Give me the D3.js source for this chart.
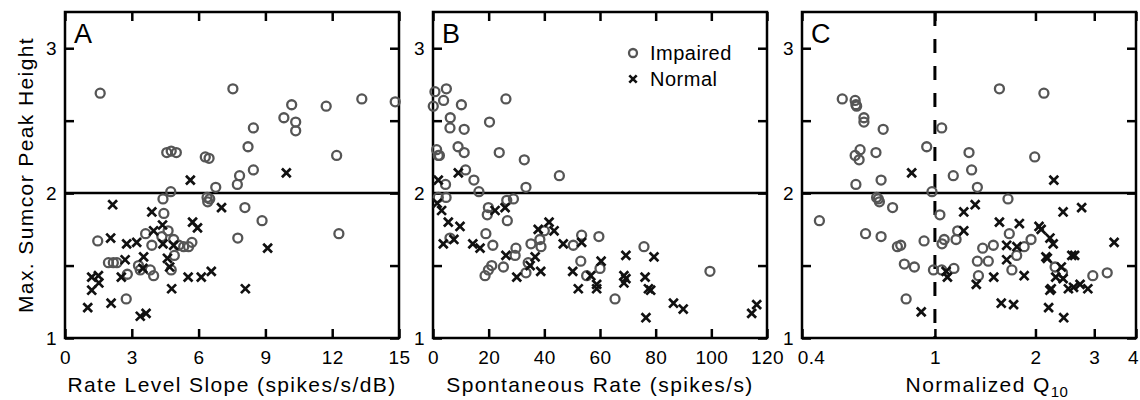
<!DOCTYPE html>
<html>
<head>
<meta charset="utf-8">
<script src="https://cdn.jsdelivr.net/npm/d3@7"></script>
<style>
body { margin: 0; background: #fff; }
svg { font-family: "Liberation Sans", Arial, sans-serif; }
</style>
</head>
<body>
<svg width="1140" height="400"></svg>
<script>
const width = 1140, height = 400;
const marginTop = 12;
const plotBottom = 338;
const panelWidth = 334;
const svg = d3.select("svg");

// y axis shared by all three panels
const peakTicks = [1, 1.5, 2, 2.5, 3];
const peakLabels = [1, 2, 3];

// x ticks
const slopeTicks = [0, 3, 6, 9, 12, 15];
const spontTicks = [0, 20, 40, 60, 80, 100, 120];
const q10Ticks = [0.4, 1, 2, 3, 4];

// Panel A: rate level slope vs peak height
const slopeImpaired = [
    [1.58, 2.69], [7.54, 2.72], [13.33, 2.65], [14.83, 2.63], [11.73, 2.60], [10.18, 2.61],
    [9.83, 2.52], [10.36, 2.49], [10.36, 2.43], [8.46, 2.45], [8.22, 2.32], [12.2, 2.26],
    [4.57, 2.28], [4.77, 2.29], [5.0, 2.28], [6.3, 2.25], [6.47, 2.24], [8.46, 2.16],
    [7.84, 2.12], [7.74, 2.06], [6.77, 2.04], [4.75, 2.01], [4.40, 1.96], [6.38, 1.97],
    [6.5, 1.96], [6.41, 1.94], [8.08, 1.90], [8.85, 1.81], [4.44, 1.86], [7.76, 1.69],
    [12.3, 1.72], [1.47, 1.67], [3.62, 1.72], [4.63, 1.74], [4.35, 1.70], [3.90, 1.64],
    [4.88, 1.68], [5.11, 1.64], [5.33, 1.63], [5.55, 1.63], [5.70, 1.66], [4.91, 1.57],
    [4.77, 1.47], [1.95, 1.52], [2.17, 1.52], [2.33, 1.52], [3.30, 1.50], [3.38, 1.47],
    [3.83, 1.47], [3.98, 1.43], [2.80, 1.44], [2.75, 1.27]
];
const slopeNormal = [
    [5.63, 2.09], [9.94, 2.14], [2.14, 1.92], [3.90, 1.87], [7.03, 1.90], [5.73, 1.80],
    [5.95, 1.76], [4.38, 1.78], [3.98, 1.74], [2.05, 1.69], [2.77, 1.65], [3.22, 1.66],
    [4.40, 1.65], [4.88, 1.64], [9.10, 1.62], [3.53, 1.56], [4.60, 1.55], [2.70, 1.54],
    [4.70, 1.49], [3.50, 1.48], [1.20, 1.42], [1.50, 1.43], [1.52, 1.38], [1.20, 1.33],
    [2.53, 1.42], [5.53, 1.42], [6.12, 1.42], [6.57, 1.46], [4.79, 1.34], [8.10, 1.34],
    [1.02, 1.21], [2.07, 1.24], [3.38, 1.15], [3.64, 1.17]
];

// Panel B: spontaneous rate vs peak height
const spontImpaired = [
    [0.7, 2.70], [4.8, 2.72], [3.8, 2.64], [0.1, 2.60], [10.2, 2.61], [26.2, 2.65],
    [6.2, 2.52], [6.1, 2.45], [11.2, 2.44], [20.3, 2.49], [1.3, 2.30], [1.9, 2.26],
    [2.3, 2.26], [9.0, 2.32], [11.2, 2.28], [23.8, 2.28], [32.8, 2.23], [11.7, 2.16],
    [45.4, 2.12], [14.7, 2.09], [4.5, 2.06], [16.5, 2.01], [33.4, 2.04], [4.7, 1.97],
    [1.9, 1.97], [28.9, 1.96], [19.9, 1.90], [19.5, 1.85], [26.5, 1.95], [26.7, 1.81],
    [19.0, 1.72], [21.5, 1.64], [6.1, 1.69], [29.8, 1.62], [29.5, 1.57], [35.2, 1.65],
    [38.4, 1.68], [38.8, 1.63], [40.0, 1.74], [18.7, 1.43], [19.9, 1.47], [21.1, 1.50],
    [25.3, 1.49], [33.4, 1.45], [34.2, 1.52], [50.4, 1.64], [53.4, 1.71], [53.1, 1.53],
    [55.2, 1.43], [59.6, 1.70], [60.0, 1.48], [65.4, 1.27], [75.8, 1.63], [99.5, 1.46]
];
const spontNormal = [
    [1.9, 2.09], [9.1, 2.14], [1.5, 1.93], [3.1, 1.88], [5.5, 1.80], [9.7, 1.77],
    [3.7, 1.65], [7.5, 1.68], [22.3, 1.88], [25.9, 1.90], [14.3, 1.65], [16.9, 1.62],
    [26.2, 1.57], [30.1, 1.42], [34.9, 1.50], [36.7, 1.56], [38.7, 1.46], [37.8, 1.75],
    [41.7, 1.80], [43.5, 1.74], [46.8, 1.65], [50.2, 1.46], [53.4, 1.66], [52.2, 1.34],
    [56.7, 1.43], [58.8, 1.37], [58.8, 1.34], [60.4, 1.53], [69.3, 1.57], [68.6, 1.43],
    [69.3, 1.41], [68.6, 1.38], [76.2, 1.42], [79.4, 1.56], [77.4, 1.34], [78.2, 1.33],
    [76.5, 1.14], [86.4, 1.24], [89.9, 1.20], [114.5, 1.17], [116.3, 1.23]
];

// Panel C: normalized Q10 vs peak height
const q10Impaired = [
    [0.451, 1.81], [0.528, 2.65], [0.577, 2.64], [0.580, 2.61], [0.583, 2.60], [0.613, 2.52],
    [0.613, 2.49], [0.70, 2.44], [0.577, 2.26], [0.597, 2.30], [0.593, 2.23], [0.666, 2.28],
    [0.58, 2.06], [0.69, 2.09], [0.669, 1.97], [0.677, 1.96], [0.682, 1.94], [0.747, 1.90],
    [0.62, 1.72], [0.69, 1.70], [0.772, 1.63], [0.79, 1.64], [0.81, 1.51], [0.868, 1.49],
    [0.82, 1.27], [0.928, 1.67], [0.945, 2.32], [0.98, 2.01], [1.048, 2.45], [1.035, 1.85],
    [0.99, 1.47], [1.048, 1.47], [1.05, 1.65], [1.066, 1.68], [1.135, 2.12], [1.157, 1.68],
    [1.17, 1.74], [1.14, 1.48], [1.265, 2.28], [1.288, 2.16], [1.34, 2.04], [1.34, 1.53],
    [1.35, 1.43], [1.39, 1.62], [1.445, 1.53], [1.496, 1.64], [1.56, 2.72], [1.655, 1.96],
    [1.67, 1.72], [1.70, 1.47], [1.757, 1.57], [1.85, 1.63], [1.94, 1.68], [1.99, 2.25],
    [2.12, 2.69], [2.29, 1.49], [2.41, 1.45], [2.97, 1.43], [3.28, 1.45]
];
const q10Normal = [
    [0.852, 2.14], [2.27, 2.09], [0.91, 1.18], [1.22, 1.87], [1.32, 1.92], [1.22, 1.74],
    [1.56, 1.80], [1.79, 1.79], [2.05, 1.77], [2.08, 1.75], [2.21, 1.69], [2.26, 1.65],
    [1.64, 1.64], [1.76, 1.63], [1.64, 1.54], [2.15, 1.56], [2.17, 1.55], [2.57, 1.57],
    [2.62, 1.57], [2.42, 1.87], [2.75, 1.90], [3.44, 1.66], [1.08, 1.46], [1.09, 1.42],
    [1.33, 1.37], [1.50, 1.42], [1.85, 1.43], [2.39, 1.49], [2.30, 1.42], [2.42, 1.41],
    [2.23, 1.34], [2.21, 1.33], [2.51, 1.34], [2.60, 1.35], [2.72, 1.37], [2.87, 1.34],
    [1.58, 1.24], [1.72, 1.23], [2.19, 1.21], [2.43, 1.14]
];

const panels = [
    { letter: "A", left: 65, scale: d3.scaleLinear().domain([0, 15]), ticks: slopeTicks,
      title: "Rate Level Slope (spikes/s/dB)", impaired: slopeImpaired, normal: slopeNormal },
    { letter: "B", left: 433, scale: d3.scaleLinear().domain([0, 120]), ticks: spontTicks,
      title: "Spontaneous Rate (spikes/s)", impaired: spontImpaired, normal: spontNormal, legend: true },
    { letter: "C", left: 802, scale: d3.scaleLog().domain([0.4, 4]), ticks: q10Ticks,
      title: "Normalized Q", sub: "10", impaired: q10Impaired, normal: q10Normal, dashed: 1 }
];

const yScale = d3.scaleLinear().domain([1, 3.25]).range([plotBottom, marginTop]);

const circleColor = "#555";
const crossColor = "#111";

function drawCross(g, x, y, h, sw) {
    g.append("path")
        .attr("d", `M${x - h},${y - h}L${x + h},${y + h}M${x - h},${y + h}L${x + h},${y - h}`)
        .attr("stroke", crossColor)
        .attr("stroke-width", sw)
        .attr("fill", "none");
}

function styleAxis(g) {
    g.select(".domain").remove();
    g.selectAll("line").attr("stroke", "#000").attr("stroke-width", 2.5);
    g.attr("font-family", null).attr("font-size", 19);
    g.selectAll("text").attr("fill", "#000").style("letter-spacing", "0.4px");
}

panels.forEach(p => {
    const x = p.scale.range([p.left, p.left + panelWidth]);
    const g = svg.append("g");

    // reference line at peak height 2
    g.append("line")
        .attr("x1", p.left).attr("x2", p.left + panelWidth)
        .attr("y1", yScale(2)).attr("y2", yScale(2))
        .attr("stroke", "#000").attr("stroke-width", 2.5);

    if (p.dashed) {
        g.append("line")
            .attr("x1", x(p.dashed)).attr("x2", x(p.dashed))
            .attr("y1", marginTop).attr("y2", plotBottom)
            .attr("stroke", "#000").attr("stroke-width", 3)
            .attr("stroke-dasharray", "14,13");
    }

    // axes, ticks pointing inward on all four sides
    g.append("g")
        .attr("transform", `translate(0,${plotBottom})`)
        .call(d3.axisBottom(x).tickValues(p.ticks).tickSizeInner(-9).tickSizeOuter(0)
            .tickPadding(13).tickFormat(d => d))
        .call(styleAxis);

    g.append("g")
        .attr("transform", `translate(0,${marginTop})`)
        .call(d3.axisTop(x).tickValues(p.ticks).tickSizeInner(-9).tickSizeOuter(0).tickFormat(""))
        .call(styleAxis);

    g.append("g")
        .attr("transform", `translate(${p.left},0)`)
        .call(d3.axisLeft(yScale).tickValues(peakTicks).tickSizeInner(-9).tickSizeOuter(0)
            .tickPadding(8).tickFormat(d => peakLabels.includes(d) ? d : ""))
        .call(styleAxis);

    g.append("g")
        .attr("transform", `translate(${p.left + panelWidth},0)`)
        .call(d3.axisRight(yScale).tickValues(peakTicks).tickSizeInner(-9).tickSizeOuter(0).tickFormat(""))
        .call(styleAxis);

    if (p.letter === "C") {
        // nudge 0.4 away from the 120 of panel B, and 4 off the edge
        g.selectAll("text").filter(d => d === 0.4).attr("dx", 9);
        g.selectAll("text").filter(d => d === 4).attr("dx", -3);
    }

    // frame
    g.append("rect")
        .attr("x", p.left).attr("y", marginTop)
        .attr("width", panelWidth).attr("height", plotBottom - marginTop)
        .attr("fill", "none").attr("stroke", "#000").attr("stroke-width", 2.5);

    // points
    g.selectAll(".imp")
        .data(p.impaired)
        .join("circle")
        .attr("class", "imp")
        .attr("cx", d => x(d[0]))
        .attr("cy", d => yScale(d[1]))
        .attr("r", 4.5)
        .attr("fill", "none")
        .attr("stroke", circleColor)
        .attr("stroke-width", 2.3);

    p.normal.forEach(d => drawCross(g, x(d[0]), yScale(d[1]), 4.4, 2.7));

    // panel letter
    g.append("text")
        .attr("x", p.left + 9)
        .attr("y", 43)
        .attr("font-size", 27)
        .text(p.letter);

    // x title
    const title = g.append("text")
        .attr("x", p.left + panelWidth / 2 + (p.sub ? 18 : 0))
        .attr("y", 392)
        .attr("text-anchor", "middle")
        .attr("font-size", 21)
        .style("letter-spacing", "1.4px")
        .text(p.title);
    if (p.sub) {
        title.append("tspan")
            .attr("font-size", 15)
            .attr("dy", 5)
            .style("letter-spacing", "0.5px")
            .text(p.sub);
    }

    if (p.legend) {
        const lx = p.left + 200;
        g.append("circle")
            .attr("cx", lx).attr("cy", 53).attr("r", 4)
            .attr("fill", "none").attr("stroke", circleColor).attr("stroke-width", 2.3);
        g.append("text").attr("x", lx + 17).attr("y", 60)
            .attr("font-size", 20).style("letter-spacing", "0.5px").text("Impaired");
        drawCross(g, lx, 79, 3.7, 2.6);
        g.append("text").attr("x", lx + 17).attr("y", 86)
            .attr("font-size", 20).style("letter-spacing", "0.5px").text("Normal");
    }
});

// shared y title
svg.append("text")
    .attr("transform", `translate(33,${(marginTop + plotBottom) / 2}) rotate(-90)`)
    .attr("text-anchor", "middle")
    .attr("font-size", 21)
    .style("letter-spacing", "1.4px")
    .text("Max. Sumcor Peak Height");
</script>
</body>
</html>
